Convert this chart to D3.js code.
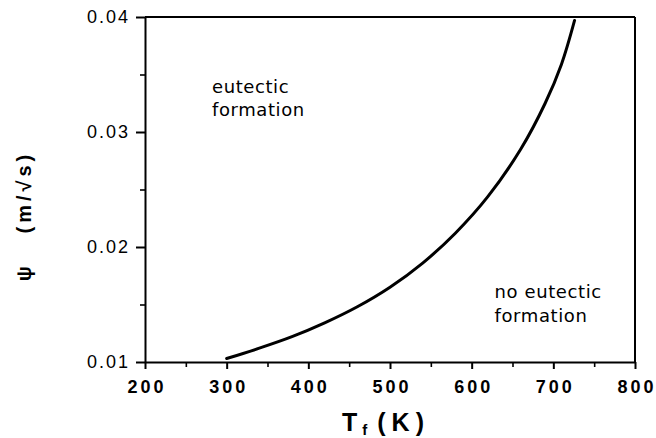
<!DOCTYPE html>
<html>
<head>
<meta charset="utf-8">
<script src="https://cdn.jsdelivr.net/npm/d3@7/dist/d3.min.js"></script>
<style>
  html, body { margin: 0; padding: 0; background: #fff; }
  svg { display: block; }
  .tick text { fill: #000; }
</style>
</head>
<body>
<svg id="chart" width="656" height="438"></svg>
<script>
// Boundary curve: freezing temperature T_f (K) vs. growth constant psi (m/sqrt(s))
const tempK = [300, 340, 380, 420, 460, 500, 540, 580, 620, 660, 690, 710, 726];
const psiVals = [0.0103, 0.0112, 0.0122, 0.0134, 0.0148, 0.0165, 0.0186, 0.0212, 0.0244, 0.0285, 0.0325, 0.0359, 0.0397];

const xTicks = [200, 300, 400, 500, 600, 700, 800];
const xMinor = [250, 350, 450, 550, 650, 750];
const yTicks = [0.01, 0.02, 0.03, 0.04];
const yMinor = [0.015, 0.025, 0.035];

const regionLabels = [
  { lines: ["eutectic", "formation"], T: 282, psi: [0.0334, 0.0314] },
  { lines: ["no eutectic", "formation"], T: 628, psi: [0.01557, 0.01348] }
];

const svg = d3.select("#chart");
const x = d3.scaleLinear().domain([200, 800]).range([145, 635]);
const y = d3.scaleLinear().domain([0.01, 0.04]).range([362, 17]);

const tickFont = "'Liberation Sans', Arial, sans-serif";

// frame: top and right edges
svg.append("line").attr("x1", x(200)).attr("x2", x(800)).attr("y1", y(0.04)).attr("y2", y(0.04))
  .attr("stroke", "#000").attr("stroke-width", 2);
svg.append("line").attr("x1", x(800)).attr("x2", x(800)).attr("y1", y(0.04)).attr("y2", y(0.01))
  .attr("stroke", "#000").attr("stroke-width", 2);

// bottom axis
const xAxis = svg.append("g").attr("transform", `translate(0,${y(0.01)})`)
  .call(d3.axisBottom(x).tickValues(xTicks).tickFormat(d3.format("d")).tickSize(7).tickSizeOuter(0).tickPadding(11));
xAxis.attr("font-size", null).attr("font-family", null);
xAxis.select(".domain").attr("stroke-width", 2);
xAxis.selectAll(".tick line").attr("stroke-width", 2);
xAxis.selectAll(".tick text")
  .style("font-family", tickFont).style("font-size", "18px")
  .style("font-weight", "bold").style("letter-spacing", "3px")
  .attr("dx", "1.5px");
svg.append("g").attr("transform", `translate(0,${y(0.01)})`)
  .call(d3.axisBottom(x).tickValues(xMinor).tickFormat("").tickSize(5).tickSizeOuter(0))
  .call(g => g.select(".domain").remove())
  .selectAll(".tick line").attr("stroke-width", 1.6);

// left axis
const yAxis = svg.append("g").attr("transform", `translate(${x(200)},0)`)
  .call(d3.axisLeft(y).tickValues(yTicks).tickFormat(d3.format(".2f")).tickSize(9).tickSizeOuter(0).tickPadding(5));
yAxis.attr("font-size", null).attr("font-family", null);
yAxis.select(".domain").attr("stroke-width", 2);
yAxis.selectAll(".tick line").attr("stroke-width", 2);
yAxis.selectAll(".tick text")
  .style("font-family", tickFont).style("font-size", "18px").style("letter-spacing", "2px")
  .attr("dx", "-1px");
svg.append("g").attr("transform", `translate(${x(200)},0)`)
  .call(d3.axisLeft(y).tickValues(yMinor).tickFormat("").tickSize(5).tickSizeOuter(0))
  .call(g => g.select(".domain").remove())
  .selectAll(".tick line").attr("stroke-width", 1.6);

// boundary curve
const line = d3.line().x((d, i) => x(tempK[i])).y(d => y(d)).curve(d3.curveCatmullRom.alpha(0.5));
svg.append("path").datum(psiVals).attr("d", line)
  .attr("fill", "none").attr("stroke", "#000").attr("stroke-width", 3).attr("stroke-linecap", "round");

// region annotations
const labelFont = "'DejaVu Sans', sans-serif";
regionLabels.forEach(lab => {
  lab.lines.forEach((t, i) => {
    svg.append("text").attr("x", x(lab.T)).attr("y", y(lab.psi[i]))
      .style("font-family", labelFont).style("font-size", "18px").attr("fill", "#000")
      .style("letter-spacing", "0.6px").text(t);
  });
});

// axis titles
const xt = svg.append("text").attr("x", 342).attr("y", 431)
  .style("font-family", tickFont).style("font-weight", "bold").style("font-size", "25px").attr("fill", "#000");
xt.append("tspan").text("T");
xt.append("tspan").style("font-size", "15px").attr("dy", 4).attr("dx", 5).text("f");
xt.append("tspan").attr("dy", -4).attr("dx", 10).style("letter-spacing", "6px").text("(K)");

svg.append("text").attr("transform", "translate(31,216) rotate(-90)")
  .attr("text-anchor", "middle")
  .style("font-family", tickFont).style("font-weight", "bold").style("font-size", "20px").attr("fill", "#000")
  .style("letter-spacing", "4px").style("white-space", "pre")
  .text("\u03C8   (m/\u221As)");
</script>
</body>
</html>
